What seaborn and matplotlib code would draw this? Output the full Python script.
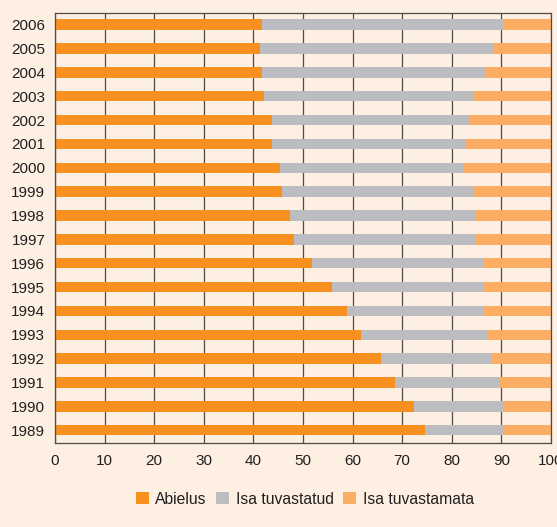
import numpy as np
import pandas as pd
import matplotlib
matplotlib.use("Agg")
import matplotlib.pyplot as plt
import seaborn as sns
from matplotlib.patches import Patch

# data (top to bottom: 2006 -> 1989), percent
years = [2006, 2005, 2004, 2003, 2002, 2001, 2000, 1999, 1998,
         1997, 1996, 1995, 1994, 1993, 1992, 1991, 1990, 1989]
abielus = [41.7, 41.4, 41.8, 42.1, 43.7, 43.7, 45.4, 45.7, 47.4,
           48.2, 51.8, 55.8, 58.8, 61.6, 65.8, 68.6, 72.4, 74.5]
isa_tuvastatud = [48.8, 47.0, 45.0, 42.2, 39.7, 39.0, 36.8, 38.5, 37.3,
                  36.5, 34.4, 30.5, 27.5, 25.8, 22.4, 21.1, 18.2, 15.9]
isa_tuvastamata = [9.5, 11.6, 13.2, 15.7, 16.6, 17.3, 17.8, 15.8, 15.3,
                   15.3, 13.8, 13.7, 13.7, 12.6, 11.8, 10.3, 9.4, 9.6]
labels = ["Abielus", "Isa tuvastatud", "Isa tuvastamata"]
colors = ["#F7901E", "#BCBDC0", "#FBAD63"]
bg = "#FDF0E2"

df = pd.DataFrame({"year": [str(y) for y in years],
                   "a": abielus, "b": isa_tuvastatud, "c": isa_tuvastamata})
df["ab"] = df["a"] + df["b"]
df["abc"] = df["ab"] + df["c"]

sns.set_style("white")
plt.rcParams["font.family"] = ["Liberation Sans", "DejaVu Sans"]

fig = plt.figure(figsize=(5.57, 5.27), dpi=100, facecolor=bg)
ax = fig.add_axes([0.0987, 0.159, 0.8905, 0.816])
ax.set_facecolor(bg)

# stacked look: draw cumulative totals, widest first
order = df["year"].tolist()
for col, c in zip(["abc", "ab", "a"], [colors[2], colors[1], colors[0]]):
    sns.barplot(data=df, x=col, y="year", order=order, orient="h",
                color=c, width=0.44, saturation=1, ax=ax, zorder=2,
                linewidth=0)

ax.set_xlim(0, 100)
ax.set_ylim(17.545, -0.48)
ax.set_xticks(np.arange(0, 101, 10))
ax.set_xlabel("")
ax.set_ylabel("")
ax.grid(axis="x", color="#4f4a45", linewidth=0.9, zorder=0)
ax.set_axisbelow(True)
for s in ax.spines.values():
    s.set_color("#4f4a45")
    s.set_linewidth(0.9)
ax.tick_params(axis="x", length=6, width=0.9, color="#4f4a45",
               labelsize=11, pad=2, labelcolor="#231f20")
ax.tick_params(axis="y", length=0, labelsize=11, pad=7, labelcolor="#231f20")

handles = [Patch(facecolor=c, edgecolor="none") for c in colors]
fig.legend(handles, labels, loc="center", bbox_to_anchor=(0.547, 0.053),
           ncol=3, frameon=False, fontsize=11.3, handlelength=0.85,
           handleheight=0.85, handletextpad=0.4, columnspacing=0.6,
           labelcolor="#231f20")

fig.savefig("out.png", dpi=100, facecolor=bg)
